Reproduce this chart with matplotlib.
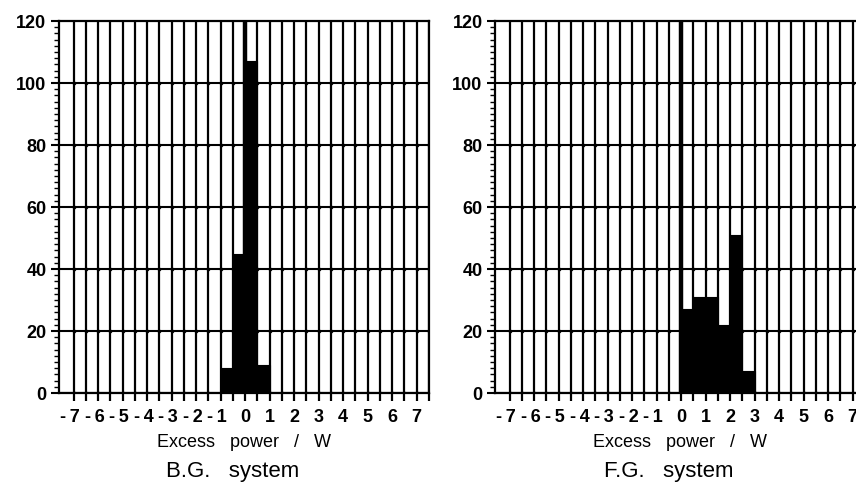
import numpy as np
import matplotlib
matplotlib.use("Agg")
import matplotlib.pyplot as plt
from matplotlib.ticker import MultipleLocator, FixedLocator

plt.rcParams['font.family'] = ['Liberation Sans', 'DejaVu Sans']

# Histogram bins (left edges, width 0.5 W) and counts for each system
bg_bin_left = [-1.0, -0.5, 0.0, 0.5]
bg_counts = [8, 45, 107, 9]

fg_bin_left = [0.0, 0.5, 1.0, 1.5, 2.0, 2.5]
fg_counts = [27, 31, 31, 22, 51, 7]

bin_width = 0.5
x_ticks = [-7, -6, -5, -4, -3, -2, -1, 0, 1, 2, 3, 4, 5, 6, 7]
x_tick_labels = ['-\u20097\u2009\u2009', '-\u20096\u2009\u2009', '-\u20095\u2009\u2009',
                 '-\u20094\u2009\u2009', '-\u20093\u2009\u2009', '-\u20092\u2009\u2009',
                 '-\u20091\u2009\u2009', '0', '1', '2', '3', '4', '5', '6', '7']
y_ticks = [0, 20, 40, 60, 80, 100, 120]

panels = [
    ("B.G.   system", bg_bin_left, bg_counts),
    ("F.G.   system", fg_bin_left, fg_counts),
]

W, H = 856, 488
fig = plt.figure(figsize=(W / 100, H / 100), dpi=100)
fig.patch.set_facecolor('white')

ax_w = 370 / W
ax_h = 372 / H
ax_bottom = (H - 393) / H
lefts = [59 / W, 495 / W]

for (title, bins, counts), left in zip(panels, lefts):
    ax = fig.add_axes([left, ax_bottom, ax_w, ax_h])
    ax.set_xlim(-7.6, 7.5)
    ax.set_ylim(0, 120)

    # grid: vertical every 0.5 W, horizontal every 20 counts
    grid_x = np.arange(-7.0, 7.51, 0.5)
    for xv in grid_x:
        ax.axvline(xv, color='black', lw=1.6, zorder=1)
    for yv in y_ticks[:-1]:
        ax.axhline(yv, color='black', lw=1.5, zorder=1)
    gx, gy = np.meshgrid(grid_x, y_ticks[:-1])
    ax.scatter(gx.ravel(), gy.ravel(), s=7, color='black', zorder=1.5, linewidths=0)

    # zero line
    ax.axvline(0, color='black', lw=3.2, zorder=1.6)

    ax.bar(bins, counts, width=bin_width, align='edge', color='black',
           edgecolor='black', linewidth=0.8, zorder=2)

    # x ticks: labelled integers, unlabelled half steps
    ax.set_xticks(x_ticks)
    ax.set_xticklabels(x_tick_labels, fontsize=13, fontweight='bold')
    ax.xaxis.set_minor_locator(FixedLocator(grid_x[1::2]))
    ax.tick_params(axis='x', which='both', direction='out', length=5.5, width=1.6, pad=6)

    ax.set_yticks(y_ticks)
    ax.set_yticklabels([str(v) for v in y_ticks], fontsize=13, fontweight='bold')
    ax.yaxis.set_minor_locator(MultipleLocator(2))
    ax.tick_params(axis='y', which='major', direction='out', length=6, width=1.5, pad=3)
    ax.tick_params(axis='y', which='minor', direction='out', length=3.5, width=1.0)

    for s in ax.spines.values():
        s.set_linewidth(1.6)
        s.set_color('black')

    ax.text(0.5, -0.132, "Excess   power   /   W", transform=ax.transAxes,
            ha='center', va='center', fontsize=13)
    ax.text(0.47, -0.212, title, transform=ax.transAxes,
            ha='center', va='center', fontsize=16)

fig.savefig("out.png", dpi=100)
